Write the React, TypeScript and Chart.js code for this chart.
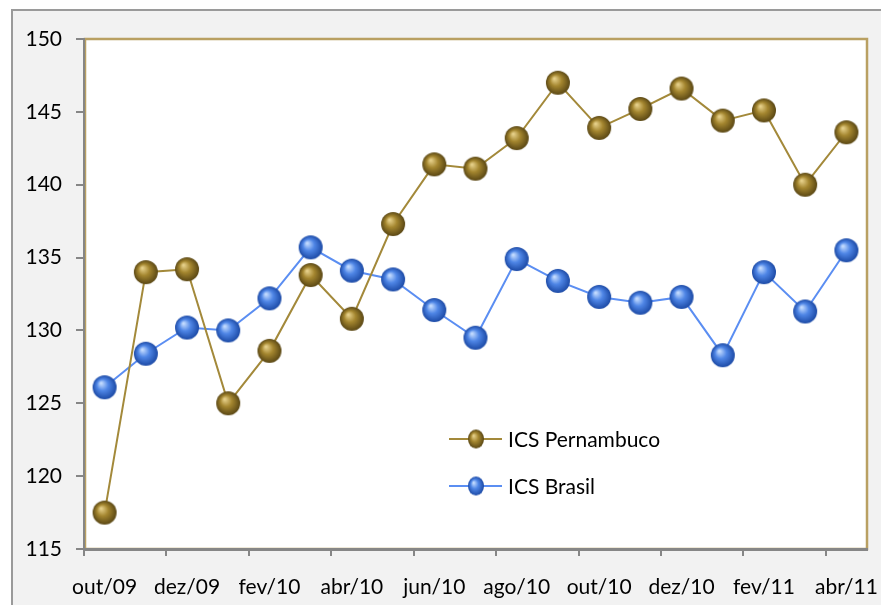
import React, { useEffect, useRef } from "react";
import { Chart, registerables } from "chart.js";

Chart.register(...registerables);

const months = [
  "out/09", "nov/09", "dez/09", "jan/10", "fev/10", "mar/10", "abr/10", "mai/10",
  "jun/10", "jul/10", "ago/10", "set/10", "out/10", "nov/10", "dez/10", "jan/11",
  "fev/11", "mar/11", "abr/11",
];
const icsPernambuco = [
  117.5, 134.0, 134.2, 125.0, 128.6, 133.8, 130.8, 137.3, 141.4, 141.1,
  143.2, 147.0, 143.9, 145.2, 146.6, 144.4, 145.1, 140.0, 143.6,
];
const icsBrasil = [
  126.1, 128.4, 130.2, 130.0, 132.2, 135.7, 134.1, 133.5, 131.4, 129.5,
  134.9, 133.4, 132.3, 131.9, 132.3, 128.3, 134.0, 131.3, 135.5,
];
const yMin = 115;
const yMax = 150;
const yStep = 5;
const seriesNames = ["ICS Pernambuco", "ICS Brasil"];

const FONT = "Lato, 'Open Sans', sans-serif";
const AXIS_GRAY = "#868686";
const GOLD_BORDER = "#b9a062";

function sphere(r: number, light: string, mid: string, dark: string, rx = r, ry = r) {
  const c = document.createElement("canvas");
  const w = Math.ceil(rx * 2 + 2);
  const h = Math.ceil(ry * 2 + 2);
  c.width = w;
  c.height = h;
  const g = c.getContext("2d")!;
  g.save();
  g.translate(w / 2, h / 2);
  g.scale(rx / r, ry / r);
  const grad = g.createRadialGradient(-r * 0.3, -r * 0.35, r * 0.05, 0, 0, r);
  grad.addColorStop(0, light);
  grad.addColorStop(0.45, mid);
  grad.addColorStop(1, dark);
  g.fillStyle = grad;
  g.beginPath();
  g.arc(0, 0, r, 0, Math.PI * 2);
  g.fill();
  g.restore();
  return c;
}

export default function App() {
  const ref = useRef<HTMLCanvasElement | null>(null);

  useEffect(() => {
    if (!ref.current) return;
    const goldPt = sphere(12, "#e6d08a", "#a4862f", "#5a4714");
    const bluePt = sphere(12, "#c4dcff", "#4f86e6", "#1c4aa6");
    const goldLeg = sphere(9, "#e6d08a", "#a4862f", "#5a4714", 8, 9.5);
    const blueLeg = sphere(9, "#c4dcff", "#4f86e6", "#1c4aa6", 8, 9.5);

    const backgroundPlugin = {
      id: "bg",
      beforeDraw(chart: any) {
        const { ctx, width, height, chartArea } = chart;
        ctx.save();
        ctx.fillStyle = "#ffffff";
        ctx.fillRect(0, 0, width, height);
        ctx.fillStyle = "#f2f2f2";
        ctx.fillRect(11, 9, width - 11, height - 9);
        ctx.strokeStyle = "#9a9a9a";
        ctx.lineWidth = 2;
        ctx.beginPath();
        ctx.moveTo(12, height);
        ctx.lineTo(12, 10);
        ctx.lineTo(width, 10);
        ctx.stroke();
        ctx.fillStyle = "#ffffff";
        ctx.fillRect(chartArea.left, chartArea.top, chartArea.right - chartArea.left, chartArea.bottom - chartArea.top);
        ctx.strokeStyle = GOLD_BORDER;
        ctx.lineWidth = 2.5;
        ctx.strokeRect(chartArea.left + 1, chartArea.top, chartArea.right - chartArea.left - 1, chartArea.bottom - chartArea.top);
        ctx.restore();
      },
    };

    const legendPlugin = {
      id: "customLegend",
      afterDatasetsDraw(chart: any) {
        const { ctx } = chart;
        const items = [
          { color: "#a3893a", img: goldLeg, y: 439 },
          { color: "#5b8ef2", img: blueLeg, y: 486 },
        ];
        ctx.save();
        items.forEach((it, i) => {
          ctx.strokeStyle = it.color;
          ctx.lineWidth = 2;
          ctx.beginPath();
          ctx.moveTo(449, it.y);
          ctx.lineTo(502, it.y);
          ctx.stroke();
          ctx.drawImage(it.img, 476 - it.img.width / 2, it.y - it.img.height / 2);
          ctx.fillStyle = "#000000";
          ctx.font = `21px ${FONT}`;
          ctx.textAlign = "left";
          ctx.textBaseline = "middle";
          ctx.fillText(seriesNames[i], 508, it.y + 1);
        });
        ctx.restore();
      },
    };

    const chart = new Chart(ref.current, {
      type: "line",
      data: {
        labels: months,
        datasets: [
          {
            label: seriesNames[0],
            data: icsPernambuco,
            borderColor: "#a3893a",
            borderWidth: 2,
            pointStyle: goldPt as any,
            pointRadius: 12,
            tension: 0,
          },
          {
            label: seriesNames[1],
            data: icsBrasil,
            borderColor: "#5b8ef2",
            borderWidth: 2,
            pointStyle: bluePt as any,
            pointRadius: 12,
            tension: 0,
          },
        ],
      },
      options: {
        responsive: false,
        animation: false,
        layout: { padding: { left: 0, top: 39, right: 12, bottom: 0 } },
        plugins: {
          legend: { display: false },
          tooltip: { enabled: false },
          title: { display: false },
        },
        scales: {
          x: {
            type: "category",
            offset: true,
            afterFit(scale: any) {
              scale.height = 56;
              scale.paddingLeft = 0;
              scale.paddingRight = 0;
            },
            grid: {
              offset: true,
              drawOnChartArea: false,
              drawTicks: true,
              tickLength: 7,
              lineWidth: 2,
              color: (ctx: any) => (ctx.index % 2 === 0 ? AXIS_GRAY : "rgba(0,0,0,0)"),
            },
            border: { display: true, color: AXIS_GRAY, width: 3 },
            ticks: {
              autoSkip: false,
              maxRotation: 0,
              minRotation: 0,
              padding: 19,
              color: "#000000",
              font: { family: FONT, size: 21 },
              callback: (_v: any, i: number) => (i % 2 === 0 ? months[i] : ""),
            },
          },
          y: {
            min: yMin,
            max: yMax,
            afterFit(scale: any) {
              scale.width = 84;
              scale.paddingTop = 0;
              scale.paddingBottom = 0;
            },
            grid: {
              drawOnChartArea: false,
              drawTicks: true,
              tickLength: 8,
              lineWidth: 2,
              color: AXIS_GRAY,
            },
            border: { display: true, color: AXIS_GRAY, width: 2 },
            ticks: {
              stepSize: yStep,
              padding: 14,
              color: "#000000",
              font: { family: FONT, size: 21 },
            },
          },
        },
      },
      plugins: [backgroundPlugin, legendPlugin],
    });
    return () => chart.destroy();
  }, []);

  return (
    <div style={{ position: "fixed", left: 0, top: 0, width: 881, height: 605 }}>
      <canvas ref={ref} width={881} height={605} style={{ display: "block" }} />
    </div>
  );
}
